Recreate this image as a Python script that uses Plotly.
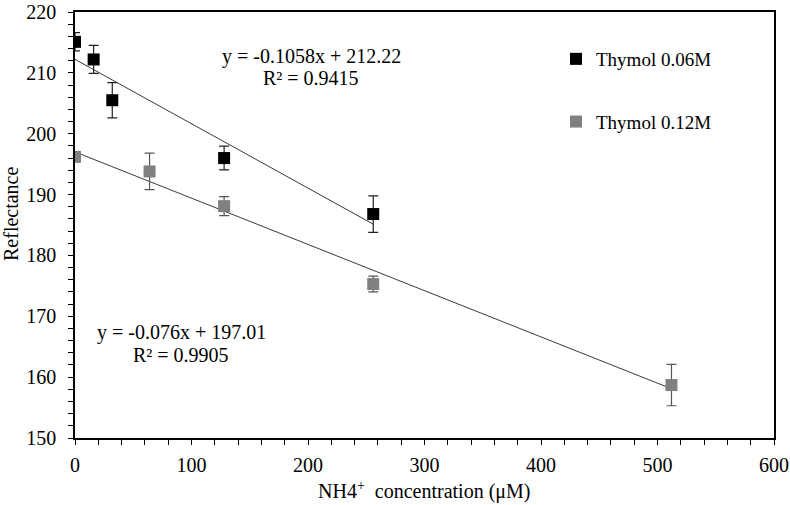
import plotly.graph_objects as go
import numpy as np

# Data
x_a = [0, 16, 32, 128, 256]
y_a = [215.1, 212.2, 205.5, 196.0, 186.8]
err_a = [1.5, 2.3, 2.9, 1.95, 3.0]

x_b = [0, 64, 128, 256, 512]
y_b = [196.2, 193.8, 188.1, 175.3, 158.7]
err_b = [0.6, 3.0, 1.55, 1.3, 3.4]

fit_a = (-0.1058, 212.22)
fit_b = (-0.076, 197.01)

name_a = "Thymol 0.06M"
name_b = "Thymol 0.12M"

FONT = "Liberation Serif, Times New Roman, serif"
W, H = 790, 505
L, R, T, B = 75, 16, 12, 67
PW, PH = W - L - R, H - T - B


def px(x):
    return (x - L) / PW


def py(y):
    return 1 - (y - T) / PH


fig = go.Figure()

# Trendlines
for xs, (m, c) in [(x_a, fit_a), (x_b, fit_b)]:
    xx = np.array([min(xs), max(xs)], dtype=float)
    fig.add_trace(go.Scatter(x=xx, y=m * xx + c, mode="lines",
                             line=dict(color="#3a3a3a", width=1),
                             showlegend=False, hoverinfo="skip"))

fig.add_trace(go.Scatter(x=x_a, y=y_a, mode="markers", name=name_a,
                         legendgroup="a",
                         marker=dict(symbol="square", size=12, color="#000000"),
                         error_y=dict(type="data", array=err_a, color="#222222",
                                      thickness=1.2, width=5)))
fig.add_trace(go.Scatter(x=x_b, y=y_b, mode="markers", name=name_b,
                         legendgroup="b",
                         marker=dict(symbol="square", size=12, color="#808080"),
                         error_y=dict(type="data", array=err_b, color="#555555",
                                      thickness=1.2, width=5)))

annots = [
    dict(x=311, y=57, text="y = -0.1058x + 212.22"),
    dict(x=311, y=78, text="R² = 0.9415"),
    dict(x=181, y=332, text="y = -0.076x + 197.01"),
    dict(x=181, y=355, text="R² = 0.9905"),
]
for a in annots:
    fig.add_annotation(x=px(a["x"]), y=py(a["y"]), xref="paper", yref="paper",
                       xanchor="center", yanchor="middle", text=a["text"],
                       showarrow=False, font=dict(family=FONT, size=20, color="#000"))

# Axis titles
fig.add_annotation(x=px(424), y=py(490), xref="paper", yref="paper",
                   xanchor="center", yanchor="middle",
                   text="NH4<sup>+</sup>  concentration (μM)", showarrow=False,
                   font=dict(family=FONT, size=20, color="#000"))
fig.add_annotation(x=px(11), y=py(214), xref="paper", yref="paper",
                   xanchor="center", yanchor="middle", textangle=-90,
                   text="Reflectance", showarrow=False,
                   font=dict(family=FONT, size=20, color="#000"))

axis_common = dict(showline=True, linecolor="#000", linewidth=1.5, mirror=True,
                   ticks="outside", ticklen=5, tickwidth=1.2, tickcolor="#000",
                   showgrid=False, zeroline=False, automargin=False,
                   ticklabeloverflow="allow",
                   tickfont=dict(family=FONT, size=20, color="#000"))

fig.update_xaxes(range=[0, 600], dtick=100, ticklabelstandoff=3,
                 minor=dict(ticks="outside", ticklen=5, dtick=20, tickcolor="#000",
                            tickwidth=1.2),
                 **axis_common)
fig.update_yaxes(range=[150, 220], dtick=10, ticklabelstandoff=8,
                 minor=dict(ticks="outside", ticklen=5, dtick=2, tickcolor="#000",
                            tickwidth=1.2),
                 **axis_common)

fig.update_layout(
    width=W, height=H,
    margin=dict(l=L, r=R, t=T, b=B),
    paper_bgcolor="white", plot_bgcolor="white",
    legend=dict(x=px(556), y=py(40), xanchor="left", yanchor="top",
                font=dict(family=FONT, size=19, color="#000"),
                tracegroupgap=35, bgcolor="rgba(0,0,0,0)"),
    showlegend=True,
)

fig.write_html("out.html", config={"displayModeBar": False},
               post_script="document.body.style.margin='0';")
